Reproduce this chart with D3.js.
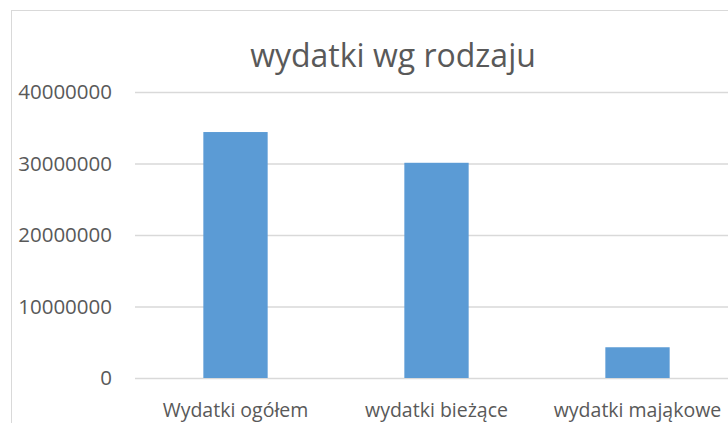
<!doctype html>
<html lang="pl">
<head>
    <meta charset="utf-8">
    <title>wydatki wg rodzaju</title>
    <script src="https://d3js.org/d3.v7.min.js"></script>
    <style type="text/css">
        body { margin: 0; background: #fff; }
        text { font-family: "Open Sans", sans-serif; fill: #595959; }
    </style>
</head>

<body>
</body>

<script type="text/javascript">

    var width  = 728;
    var height = 423;

    var categories = ["Wydatki ogółem", "wydatki bieżące", "wydatki mająkowe"];
    var values = [34400000, 30100000, 4300000];
    var yTicks = [0, 10000000, 20000000, 30000000, 40000000];
    var title = "wydatki wg rodzaju";

    var svg = d3.select("body")
        .append("svg")
        .attr("width", width)
        .attr("height", height);

    // chart frame (runs off the right and bottom edge)
    svg.append("rect")
        .attr("x", 11.5)
        .attr("y", 10.5)
        .attr("width", 780)
        .attr("height", 440)
        .attr("fill", "none")
        .attr("stroke", "#d9d9d9");

    var x = d3.scaleBand()
        .domain(categories)
        .range([135, 738])
        .paddingInner(0.68)
        .paddingOuter(0.34);

    var y = d3.scaleLinear()
        .domain([0, 40000000])
        .range([378, 92]);

    var yAxis = d3.axisLeft(y)
        .tickValues(yTicks)
        .tickFormat(d3.format("d"))
        .tickSize(-(738 - 135))
        .tickPadding(23);

    var gy = svg.append("g")
        .attr("transform", "translate(135,0)")
        .call(yAxis);
    gy.select(".domain").remove();
    gy.selectAll("line").attr("stroke", "#d9d9d9").attr("stroke-width", 1.3);
    gy.selectAll("text").style("font-size", "20.5px").attr("fill", "#595959");

    svg.selectAll(".bar")
        .data(values)
        .enter()
        .append("rect")
        .attr("class", "bar")
        .attr("x", (d, i) => x(categories[i]))
        .attr("y", d => y(d))
        .attr("width", x.bandwidth())
        .attr("height", d => y(0) - y(d))
        .attr("fill", "#5b9bd5");

    svg.selectAll(".cat")
        .data(categories)
        .enter()
        .append("text")
        .attr("class", "cat")
        .attr("x", d => x(d) + x.bandwidth() / 2)
        .attr("y", 417)
        .attr("text-anchor", "middle")
        .style("font-size", "19.5px")
        .text(d => d);

    svg.append("text")
        .attr("x", 393)
        .attr("y", 67)
        .attr("text-anchor", "middle")
        .style("font-size", "32px")
        .text(title);

</script>

</html>
